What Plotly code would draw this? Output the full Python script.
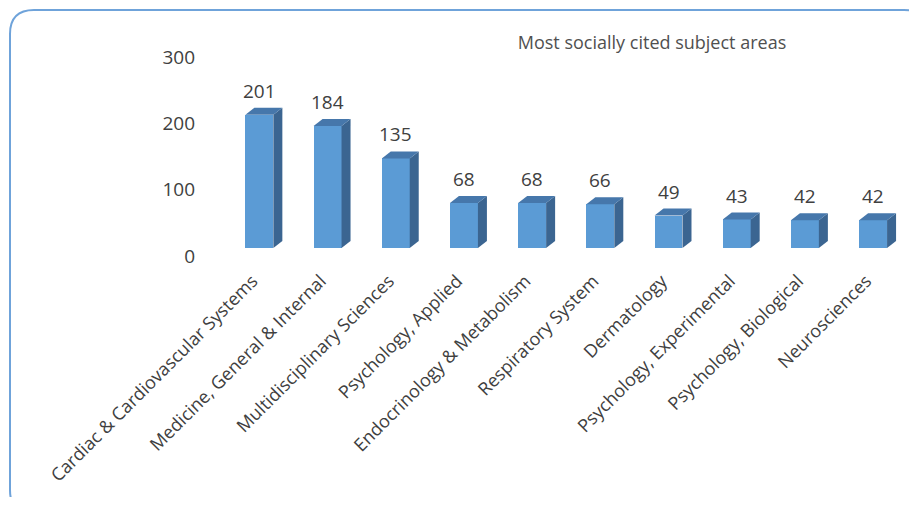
import plotly.graph_objects as go

categories = ["Cardiac & Cardiovascular Systems", "Medicine, General & Internal",
              "Multidisciplinary Sciences", "Psychology, Applied",
              "Endocrinology & Metabolism", "Respiratory System", "Dermatology",
              "Psychology, Experimental", "Psychology, Biological", "Neurosciences"]
values = [201, 184, 135, 68, 68, 66, 49, 43, 42, 42]
y_ticks = [0, 100, 200, 300]

OFF = 8                      # page body margin of the html output
W, H = 917 - OFF, 505 - 2 * OFF
ML, MT = 198 - OFF, 49 - OFF
PLOT_B = 248 - OFF           # bottom of plot area (figure pixels)
MB = H - PLOT_B
MR = 3
X0, X1 = -0.9, 9.6
Y0, Y1 = 0, 300

FRONT = "#5B9BD5"
SIDE = "#3B6591"
TOP = "#4677AB"
TEXT = "#404040"
FONT = "Open Sans"

bw = 0.41      # front face width (category units)
dx = 0.132     # depth offset in x (category units)
dy = 10.5      # depth offset in y (value units)

xs = list(range(len(categories)))
fig = go.Figure()

fig.add_trace(go.Bar(x=xs, y=values, width=bw, marker=dict(color=FRONT, line=dict(width=0)),
                     hoverinfo="skip", showlegend=False))

for i, v in zip(xs, values):
    r = i + bw / 2
    l = i - bw / 2
    fig.add_trace(go.Scatter(x=[r, r + dx, r + dx, r, r], y=[0, dy, v + dy, v, 0],
                             fill="toself", fillcolor=SIDE, mode="lines",
                             line=dict(width=0, color=SIDE), hoverinfo="skip", showlegend=False))
    fig.add_trace(go.Scatter(x=[l, l + dx, r + dx, r, l], y=[v, v + dy, v + dy, v, v],
                             fill="toself", fillcolor=TOP, mode="lines",
                             line=dict(width=0, color=TOP), hoverinfo="skip", showlegend=False))
    fig.add_annotation(x=i, y=v + dy, text=str(v), showarrow=False, yanchor="bottom",
                       yshift=2, font=dict(family=FONT, size=19, color=TEXT))

pw = W - ML - MR
ph = H - MT - MB
def px(x):
    return (x - OFF - ML) / pw
def py(y):
    return (PLOT_B - (y - OFF)) / ph
bl, bt, br, bb, rad = 10, 10, 928, 514, 24
path = (f"M {px(bl + rad)},{py(bt)} L {px(br - rad)},{py(bt)} "
        f"Q {px(br)},{py(bt)} {px(br)},{py(bt + rad)} "
        f"L {px(br)},{py(bb - rad)} Q {px(br)},{py(bb)} {px(br - rad)},{py(bb)} "
        f"L {px(bl + rad)},{py(bb)} Q {px(bl)},{py(bb)} {px(bl)},{py(bb - rad)} "
        f"L {px(bl)},{py(bt + rad)} Q {px(bl)},{py(bt)} {px(bl + rad)},{py(bt)} Z")
fig.add_shape(type="path", path=path, xref="paper", yref="paper",
              line=dict(color="#6FA3DA", width=2), layer="below")

fig.update_layout(
    width=W, height=H,
    margin=dict(l=ML, r=MR, t=MT, b=MB),
    paper_bgcolor="white", plot_bgcolor="white",
    title=dict(text="Most socially cited subject areas", xref="container", yref="container",
               x=(652 - OFF) / W, y=1 - (43 - OFF) / H, xanchor="center", yanchor="middle",
               font=dict(family=FONT, size=18, color="#505050")),
    xaxis=dict(range=[X0, X1], tickmode="array", tickvals=[i - 0.1 for i in xs],
               ticktext=categories, tickangle=-45, showgrid=False, zeroline=False,
               showline=False, ticks="", tickfont=dict(family=FONT, size=18, color=TEXT),
               ticklabelstandoff=18),
    yaxis=dict(range=[Y0, Y1], tickmode="array", tickvals=y_ticks, showgrid=False,
               zeroline=False, showline=False, ticks="", ticklabelshift=8, ticklabelstandoff=2,
               tickfont=dict(family=FONT, size=19, color=TEXT)),
    bargap=0,
)

fig.write_html("out.html")
